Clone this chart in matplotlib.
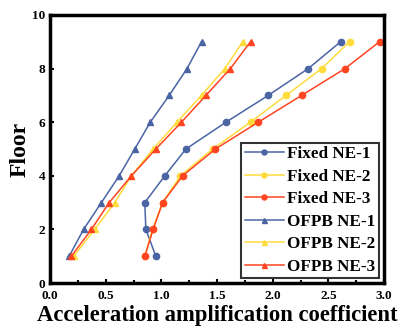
import matplotlib
matplotlib.use("Agg")
import matplotlib.pyplot as plt
from matplotlib.ticker import MultipleLocator

plt.rcParams['font.family'] = ['Liberation Serif', 'DejaVu Serif']
plt.rcParams['font.weight'] = 'bold'

floors = [1, 2, 3, 4, 5, 6, 7, 8, 9]

fixed_ne1 = [0.95, 0.86, 0.85, 1.03, 1.22, 1.58, 1.96, 2.32, 2.61]
fixed_ne2 = [0.85, 0.92, 1.01, 1.17, 1.46, 1.80, 2.12, 2.44, 2.69]
fixed_ne3 = [0.85, 0.925, 1.01, 1.19, 1.485, 1.87, 2.26, 2.65, 2.96]
ofpb_ne1 = [0.17, 0.30, 0.46, 0.62, 0.76, 0.90, 1.07, 1.23, 1.36]
ofpb_ne2 = [0.21, 0.40, 0.58, 0.73, 0.925, 1.14, 1.36, 1.57, 1.73]
ofpb_ne3 = [0.19, 0.37, 0.53, 0.73, 0.95, 1.18, 1.40, 1.62, 1.80]

blue = '#4a64a4'
yellow = '#ffdc3c'
red = '#ff4422'

fig = plt.figure(figsize=(3.98, 3.30), dpi=100)
ax = fig.add_axes([0.126, 0.142, 0.839, 0.813])

kw = dict(ms=4.5, lw=1.1)
ax.plot(fixed_ne1, floors, color=blue, marker='o', label='Fixed NE-1', **kw)
ax.plot(fixed_ne2, floors, color=yellow, marker='o', label='Fixed NE-2', **kw)
ax.plot(fixed_ne3, floors, color=red, marker='o', label='Fixed NE-3', **kw)
ax.plot(ofpb_ne1, floors, color=blue, marker='^', label='OFPB NE-1', **kw)
ax.plot(ofpb_ne2, floors, color=yellow, marker='^', label='OFPB NE-2', **kw)
ax.plot(ofpb_ne3, floors, color=red, marker='^', label='OFPB NE-3', **kw)

ax.set_xlim(0, 3)
ax.set_ylim(0, 10)
ax.xaxis.set_major_locator(MultipleLocator(0.5))
ax.xaxis.set_minor_locator(MultipleLocator(0.25))
ax.yaxis.set_major_locator(MultipleLocator(2))
ax.tick_params(which='both', direction='in', width=1.5, labelsize=9.5)
ax.tick_params(which='major', length=3)
ax.tick_params(which='minor', length=2)
ax.tick_params(axis='x', pad=5)
for s in ax.spines.values():
    s.set_linewidth(2.5)

ax.set_xlabel('Acceleration amplification coefficient', fontsize=16.3, fontweight='bold', labelpad=2)
ax.set_ylabel('Floor', fontsize=17, fontweight='bold', labelpad=1)

leg = ax.legend(loc='lower right', fontsize=12.3, frameon=True, fancybox=False,
                edgecolor='black', handlelength=2.3, labelspacing=0.38,
                borderpad=0.2, handletextpad=0.2, borderaxespad=0.3,
                markerscale=0.8)
leg.get_frame().set_linewidth(1.5)

fig.savefig('out.png', dpi=100)
